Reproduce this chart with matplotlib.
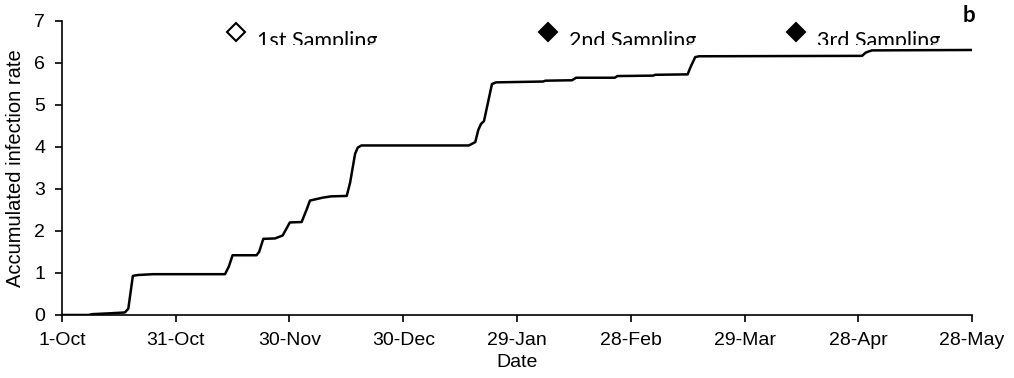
import matplotlib.pyplot as plt
from matplotlib.transforms import Bbox, TransformedBbox

# days since 1-Oct and accumulated infection rate
days = [0, 7, 8, 12.7, 16.6, 17.5, 18.7, 20, 24, 43, 44, 45, 51.3, 52, 53.1,
        56.2, 58.2, 60.1, 63.2, 64.5, 65.4, 68.8, 71, 75.1, 76, 77.3, 78, 79,
        107.3, 109, 109.8, 110.5, 111.3, 113.4, 114.5, 126.9, 127.5, 134.5,
        135.6, 145.8, 146.5, 155.9, 156.5, 165, 165.8, 167, 168, 211, 212,
        213.6, 240]
rate = [0, 0, 0.02, 0.04, 0.06, 0.15, 0.93, 0.95, 0.97, 0.97, 1.15, 1.42, 1.42,
        1.5, 1.81, 1.82, 1.89, 2.2, 2.21, 2.5, 2.72, 2.79, 2.82, 2.83, 3.15,
        3.83, 3.98, 4.03, 4.03, 4.11, 4.4, 4.54, 4.61, 5.49, 5.53, 5.55, 5.57,
        5.58, 5.64, 5.64, 5.68, 5.69, 5.71, 5.72, 5.9, 6.13, 6.15, 6.16, 6.24,
        6.29, 6.3]

sampling_days = [45.9, 128.2, 193.5]
sampling_y = 6.72
sampling_labels = ['1st Sampling', '2nd Sampling', '3rd Sampling']
sampling_filled = [False, True, True]

tick_days = [0, 30, 60, 90, 120, 150, 180, 210, 240]
tick_labels = ['1-Oct', '31-Oct', '30-Nov', '30-Dec', '29-Jan', '28-Feb',
               '29-Mar', '28-Apr', '28-May']

plt.rcParams['font.family'] = ['Liberation Sans', 'DejaVu Sans']

fig = plt.figure(figsize=(10.14, 3.78), dpi=100)
ax = fig.add_axes([0.0611, 0.1667, 0.8975, 0.779])

ax.plot(days, rate, color='black', linewidth=1.8, solid_joinstyle='round')

# text labels are cut off at the top of a hidden box
clip = TransformedBbox(Bbox([[0, 6.43], [240, 8]]), ax.transData)
for d, lab, filled in zip(sampling_days, sampling_labels, sampling_filled):
    ax.plot(d, sampling_y, marker='D', markersize=9.5, clip_on=False,
            markerfacecolor='black' if filled else 'white',
            markeredgecolor='black', markeredgewidth=1.5)
    t = ax.text(d + 5.5, 6.37, lab, fontsize=15.5, family='Lato',
                ha='left', va='baseline')
    t.set_clip_on(True)
    t.set_clip_box(clip)

fig.text(0.949, 0.942, 'b', fontsize=16, fontweight='bold', family='Lato',
         ha='left', va='baseline')

ax.set_xlim(0, 240)
ax.set_ylim(0, 7)
ax.set_xticks(tick_days)
ax.set_xticklabels(tick_labels)
ax.set_yticks(range(0, 8))
ax.tick_params(labelsize=14, length=5, width=1.2, color='black')
ax.tick_params(axis='x', pad=7.5)
ax.tick_params(axis='y', pad=7)
ax.spines['top'].set_visible(False)
ax.spines['right'].set_visible(False)
ax.spines['left'].set_linewidth(1.2)
ax.spines['bottom'].set_linewidth(1.2)
ax.set_xlabel('Date', fontsize=14, labelpad=3)
ax.set_ylabel('Accumulated infection rate', fontsize=14.5)
ax.yaxis.set_label_coords(-0.0407, 0.5)

fig.savefig('out.png', dpi=100)
